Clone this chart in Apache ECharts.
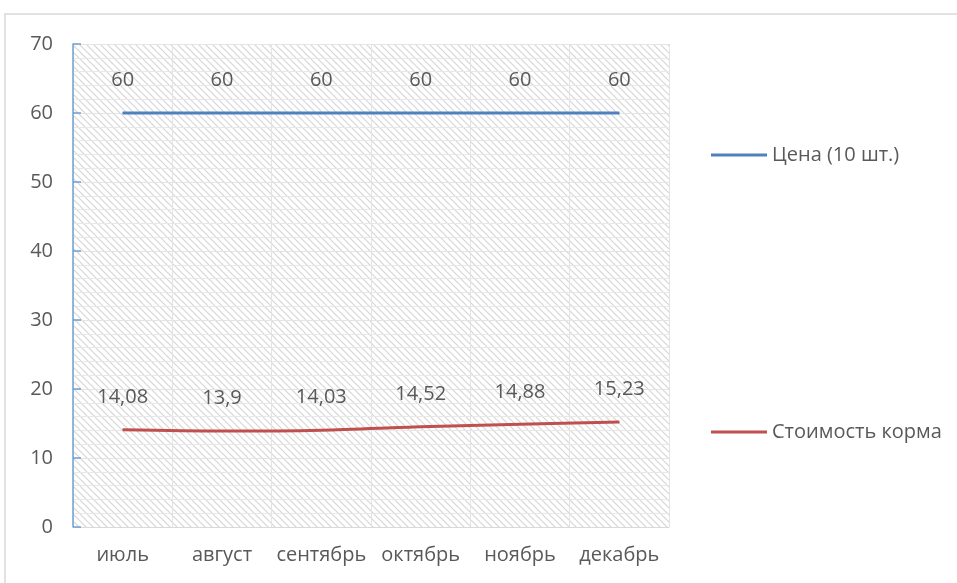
<!DOCTYPE html>
<html lang="ru">
<head>
    <meta charset="UTF-8">
    <title>Цена и стоимость корма</title>
    <script src="https://cdn.jsdelivr.net/npm/echarts@6/dist/echarts.min.js"></script>
</head>
<body style="margin:0">
<div id="main" style="width:957px; height:583px;"></div>
<script>
    var months = ['июль', 'август', 'сентябрь', 'октябрь', 'ноябрь', 'декабрь'];
    var price = [60, 60, 60, 60, 60, 60];
    var feed = [14.08, 13.9, 14.03, 14.52, 14.88, 15.23];
    var yTicks = [0, 10, 20, 30, 40, 50, 60, 70];

    // hatch pattern for the plot area
    var tile = document.createElement('canvas');
    tile.width = 7;
    tile.height = 7;
    var ctx = tile.getContext('2d');
    ctx.fillStyle = '#ffffff';
    ctx.fillRect(0, 0, 7, 7);
    ctx.strokeStyle = '#d6d6d6';
    ctx.lineWidth = 1.2;
    ctx.beginPath();
    ctx.moveTo(-1, -1); ctx.lineTo(8, 8);
    ctx.moveTo(-1, 6); ctx.lineTo(1, 8);
    ctx.moveTo(6, -1); ctx.lineTo(8, 1);
    ctx.stroke();

    var fmt = function (p) {
        return String(p.value).replace('.', ',');
    };
    var txt = '#595959';
    var font = 'Open Sans';

    var myChart = echarts.init(document.getElementById('main'));
    var option = {
        animation: false,
        graphic: [{
            type: 'rect',
            shape: {x: 5, y: 14, width: 980, height: 600},
            style: {fill: 'none', stroke: '#d9d9d9', lineWidth: 1.5},
            silent: true
        }],
        grid: {
            left: 73, right: 288, top: 44, bottom: 56,
            show: true,
            borderWidth: 0,
            backgroundColor: {image: tile, repeat: 'repeat'}
        },
        legend: [{
            data: ['Цена (10 шт.)'],
            left: 706, top: 140,
            icon: 'rect', itemWidth: 56, itemHeight: 3,
            textStyle: {color: txt, fontSize: 20, fontFamily: font}
        }, {
            data: ['Стоимость корма'],
            left: 706, top: 417,
            icon: 'rect', itemWidth: 56, itemHeight: 3,
            textStyle: {color: txt, fontSize: 20, fontFamily: font}
        }],
        xAxis: {
            type: 'category',
            data: months,
            axisLine: {lineStyle: {color: '#d9d9d9', width: 1}},
            axisTick: {show: false},
            axisLabel: {color: txt, fontSize: 20, margin: 18, fontFamily: font, interval: 0},
            splitLine: {show: true, interval: 0, lineStyle: {color: '#e4e4e4', width: 1}}
        },
        yAxis: {
            type: 'value',
            min: 0, max: 70, interval: 10,
            axisLine: {show: true, lineStyle: {color: '#6f9fd2', width: 1.5}},
            axisTick: {show: true, inside: true, length: 8, lineStyle: {color: '#6f9fd2', width: 1.5}},
            axisLabel: {color: txt, fontSize: 20, margin: 20, fontFamily: font,
                formatter: function (v) { return yTicks.indexOf(v) >= 0 ? v : ''; }},
            splitLine: {show: true, lineStyle: {color: '#e4e4e4', width: 1}},
            minorTick: {show: false, splitNumber: 5},
            minorSplitLine: {show: true, lineStyle: {color: '#e8e8e8', width: 1}}
        },
        series: [{
            name: 'Цена (10 шт.)',
            type: 'line',
            data: price,
            symbol: 'circle',
            symbolSize: 1,
            lineStyle: {color: '#4f81bd', width: 3},
            itemStyle: {color: '#4f81bd'},
            label: {show: true, position: 'top', distance: 22, color: txt, fontSize: 20,
                fontFamily: font, formatter: fmt}
        }, {
            name: 'Стоимость корма',
            type: 'line',
            data: feed,
            smooth: 0.3,
            symbol: 'circle',
            symbolSize: 1,
            lineStyle: {color: '#c0504d', width: 3},
            itemStyle: {color: '#c0504d'},
            label: {show: true, position: 'top', distance: 22, color: txt, fontSize: 20,
                fontFamily: font, formatter: fmt}
        }]
    };
    myChart.setOption(option);
</script>
</body>
</html>
